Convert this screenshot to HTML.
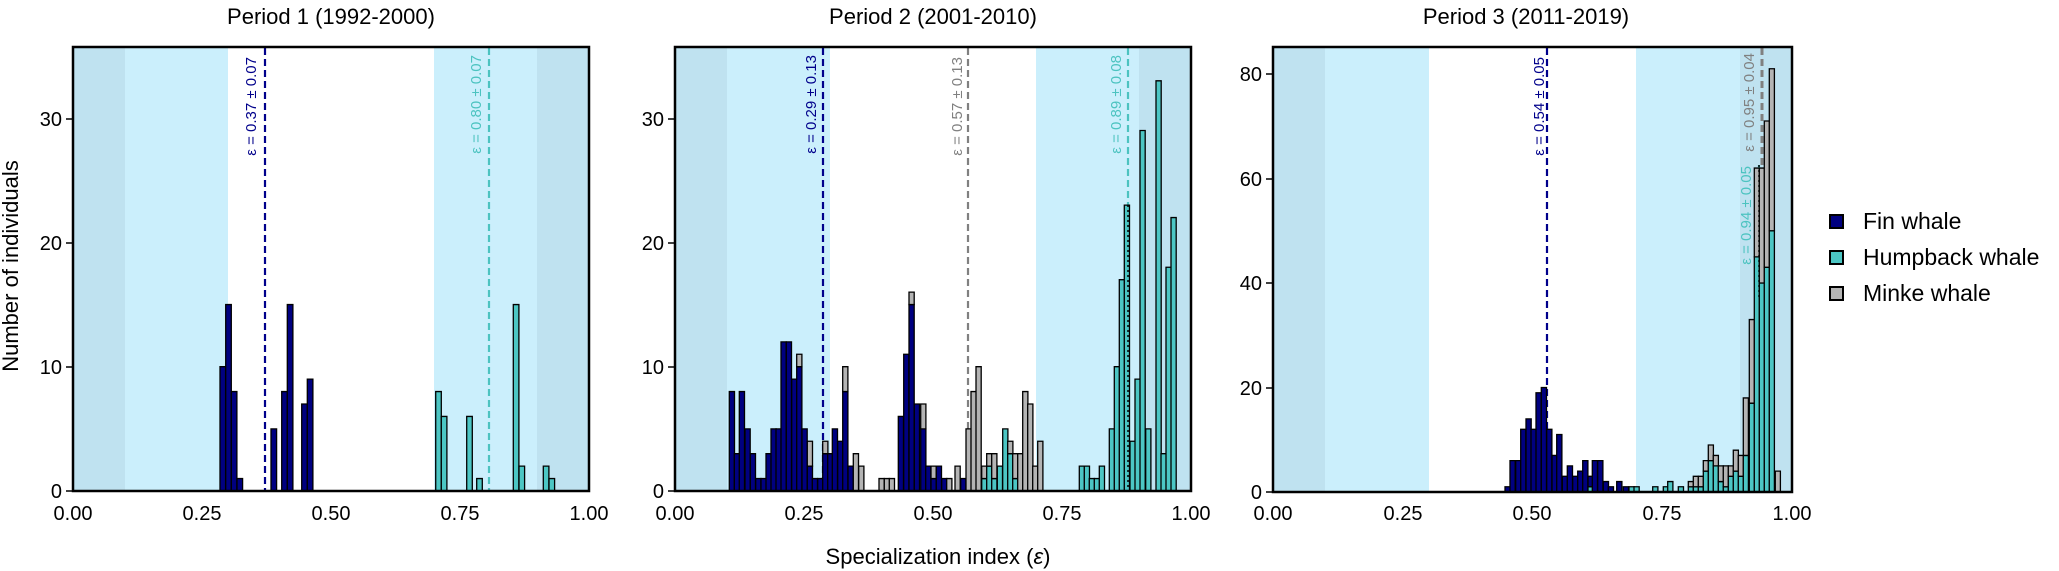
<!DOCTYPE html>
<html><head><meta charset="utf-8"><style>
html,body{margin:0;padding:0;background:#fff;}
svg{display:block;font-family:"Liberation Sans",sans-serif;}
.nv{fill:#000080;stroke:#000;stroke-width:1.3;}
.tl{fill:#4cc6c4;stroke:#000;stroke-width:1.3;}
.gy{fill:#b4b4b4;stroke:#000;stroke-width:1.3;}
rect.nv,rect.tl,rect.gy{vector-effect:non-scaling-stroke;}
.tk{font-size:20px;fill:#000;}
</style></head><body>
<svg width="2059" height="571" viewBox="0 0 2059 571" xmlns="http://www.w3.org/2000/svg">
<!-- Panel backgrounds -->
<g>
<rect x="73" y="47" width="516" height="444" fill="#fff"/>
<rect x="73" y="47" width="52" height="444" fill="#bfe2f0"/>
<rect x="125" y="47" width="103" height="444" fill="#cbeffc"/>
<rect x="434" y="47" width="103" height="444" fill="#cbeffc"/>
<rect x="537" y="47" width="52" height="444" fill="#bfe2f0"/>

<rect x="675" y="47" width="516" height="444" fill="#fff"/>
<rect x="675" y="47" width="52" height="444" fill="#bfe2f0"/>
<rect x="727" y="47" width="103" height="444" fill="#cbeffc"/>
<rect x="1036" y="47" width="103" height="444" fill="#cbeffc"/>
<rect x="1139" y="47" width="52" height="444" fill="#bfe2f0"/>

<rect x="1273" y="47" width="519" height="445" fill="#fff"/>
<rect x="1273" y="47" width="52" height="445" fill="#bfe2f0"/>
<rect x="1325" y="47" width="104" height="445" fill="#cbeffc"/>
<rect x="1636" y="47" width="104" height="445" fill="#cbeffc"/>
<rect x="1740" y="47" width="52" height="445" fill="#bfe2f0"/>
</g>

<!-- mean lines -->
<g fill="none" stroke-width="2.2" stroke-dasharray="7,4">
<line x1="265" y1="48" x2="265" y2="491" stroke="#00008b"/>
<line x1="489" y1="48" x2="489" y2="491" stroke="#4cc3c0"/>
<line x1="823" y1="48" x2="823" y2="491" stroke="#00008b"/>
<line x1="968" y1="48" x2="968" y2="491" stroke="#808080"/>
<line x1="1128" y1="48" x2="1128" y2="491" stroke="#4cc3c0"/>
<line x1="1547" y1="48" x2="1547" y2="492" stroke="#00008b"/>
<line x1="1762" y1="48" x2="1762" y2="492" stroke="#808080" stroke-width="3"/>
<line x1="1759" y1="165" x2="1759" y2="492" stroke="#4cc3c0"/>
</g>

<!-- Panel 1 bars -->
<g transform="translate(0,491) scale(1,-12.43)">
<rect class="nv" x="220" y="0" width="5.6" height="10"/>
<rect class="nv" x="225.7" y="0" width="5.6" height="15"/>
<rect class="nv" x="231.3" y="0" width="5.6" height="8"/>
<rect class="nv" x="237" y="0" width="5.6" height="1"/>
<rect class="nv" x="271" y="0" width="5.6" height="5"/>
<rect class="nv" x="281.7" y="0" width="5.6" height="8"/>
<rect class="nv" x="287.3" y="0" width="5.6" height="15"/>
<rect class="nv" x="301.7" y="0" width="5.6" height="7"/>
<rect class="nv" x="307.3" y="0" width="5.6" height="9"/>
<rect class="tl" x="435.7" y="0" width="5.6" height="8"/>
<rect class="tl" x="441.3" y="0" width="5.6" height="6"/>
<rect class="tl" x="466.7" y="0" width="5.6" height="6"/>
<rect class="tl" x="476.7" y="0" width="5.6" height="1"/>
<rect class="tl" x="513.3" y="0" width="5.6" height="15"/>
<rect class="tl" x="519" y="0" width="5.6" height="2"/>
<rect class="tl" x="543.3" y="0" width="5.6" height="2"/>
<rect class="tl" x="549" y="0" width="5.6" height="1"/>
</g>

<!-- Panel 2 bars -->
<g transform="translate(0,491) scale(1,-12.43)">
<rect class="nv" x="729.3" y="0" width="5.2" height="8"/>
<rect class="nv" x="734.3" y="0" width="5.2" height="3"/>
<rect class="nv" x="739.3" y="0" width="5.2" height="8"/>
<rect class="nv" x="745" y="0" width="5.2" height="5"/>
<rect class="nv" x="750.3" y="0" width="5.2" height="3"/>
<rect class="nv" x="755.7" y="0" width="5.2" height="1"/>
<rect class="nv" x="761" y="0" width="5.2" height="1"/>
<rect class="nv" x="766" y="0" width="5.2" height="3"/>
<rect class="nv" x="771" y="0" width="5.2" height="5"/>
<rect class="nv" x="776" y="0" width="5.2" height="5"/>
<rect class="nv" x="781" y="0" width="5.2" height="12"/>
<rect class="nv" x="786.3" y="0" width="5.2" height="12"/>
<rect class="nv" x="791.7" y="0" width="5.2" height="9"/>
<rect class="nv" x="796.7" y="0" width="5.2" height="10"/><rect class="gy" x="796.7" y="10" width="5.2" height="1"/>
<rect class="nv" x="802" y="0" width="5.2" height="5"/>
<rect class="nv" x="807.3" y="0" width="5.2" height="2"/><rect class="gy" x="807.3" y="2" width="5.2" height="2"/>
<rect class="nv" x="812.3" y="0" width="5.2" height="1"/>
<rect class="nv" x="817.7" y="0" width="5.2" height="1"/>
<rect class="nv" x="822.7" y="0" width="5.2" height="3"/><rect class="gy" x="822.7" y="3" width="5.2" height="1"/>
<rect class="nv" x="827.7" y="0" width="5.2" height="3"/>
<rect class="nv" x="832.3" y="0" width="5.2" height="5"/>
<rect class="nv" x="837.7" y="0" width="5.2" height="4"/>
<rect class="nv" x="842.7" y="0" width="5.2" height="8"/><rect class="gy" x="842.7" y="8" width="5.2" height="2"/>
<rect class="nv" x="848" y="0" width="5.2" height="2"/>
<rect class="gy" x="853.3" y="0" width="5.2" height="3"/>
<rect class="gy" x="858.7" y="0" width="5.2" height="2"/>
<rect class="gy" x="879" y="0" width="5.2" height="1"/>
<rect class="gy" x="884.3" y="0" width="5.2" height="1"/>
<rect class="gy" x="889.3" y="0" width="5.2" height="1"/>
<rect class="nv" x="898.3" y="0" width="5.2" height="6"/>
<rect class="nv" x="903.7" y="0" width="5.2" height="11"/>
<rect class="nv" x="909" y="0" width="5.2" height="15"/><rect class="gy" x="909" y="15" width="5.2" height="1"/>
<rect class="nv" x="914.3" y="0" width="5.2" height="7"/>
<rect class="nv" x="920.7" y="0" width="5.2" height="5"/><rect class="gy" x="920.7" y="5" width="5.2" height="2"/>
<rect class="nv" x="925.7" y="0" width="5.2" height="2"/>
<rect class="nv" x="931" y="0" width="5.2" height="1"/><rect class="gy" x="931" y="1" width="5.2" height="1"/>
<rect class="nv" x="936.3" y="0" width="5.2" height="2"/>
<rect class="nv" x="941.7" y="0" width="5.2" height="1"/>
<rect class="gy" x="946.7" y="0" width="5.2" height="1"/>
<rect class="gy" x="955" y="0" width="5.2" height="2"/>
<rect class="nv" x="960.7" y="0" width="5.2" height="1"/>
<rect class="gy" x="966" y="0" width="5.2" height="5"/>
<rect class="gy" x="971" y="0" width="5.2" height="8"/>
<rect class="gy" x="976" y="0" width="5.2" height="10"/>
<rect class="tl" x="981.7" y="0" width="5.2" height="1"/><rect class="gy" x="981.7" y="1" width="5.2" height="1"/>
<rect class="tl" x="986.7" y="0" width="5.2" height="2"/><rect class="gy" x="986.7" y="2" width="5.2" height="1"/>
<rect class="tl" x="991.7" y="0" width="5.2" height="1"/><rect class="gy" x="991.7" y="1" width="5.2" height="2"/>
<rect class="tl" x="997.3" y="0" width="5.2" height="2"/>
<rect class="tl" x="1002.7" y="0" width="5.2" height="5"/>
<rect class="tl" x="1007.7" y="0" width="5.2" height="3"/><rect class="gy" x="1007.7" y="3" width="5.2" height="1"/>
<rect class="tl" x="1012.7" y="0" width="5.2" height="1"/><rect class="gy" x="1012.7" y="1" width="5.2" height="2"/>
<rect class="gy" x="1017.7" y="0" width="5.2" height="3"/>
<rect class="gy" x="1022.7" y="0" width="5.2" height="8"/>
<rect class="gy" x="1027.7" y="0" width="5.2" height="7"/>
<rect class="gy" x="1032.7" y="0" width="5.2" height="2"/>
<rect class="gy" x="1037.7" y="0" width="5.2" height="4"/>
<rect class="tl" x="1079.3" y="0" width="5.2" height="2"/>
<rect class="tl" x="1084.3" y="0" width="5.2" height="2"/>
<rect class="tl" x="1089.3" y="0" width="5.2" height="1"/>
<rect class="tl" x="1094.3" y="0" width="5.2" height="1"/>
<rect class="tl" x="1099.3" y="0" width="5.2" height="2"/>
<rect class="tl" x="1109.3" y="0" width="5.2" height="5"/>
<rect class="tl" x="1114.3" y="0" width="5.2" height="10"/>
<rect class="tl" x="1119.3" y="0" width="5.2" height="17"/>
<rect class="tl" x="1124.3" y="0" width="5.2" height="23"/>
<rect class="tl" x="1130" y="0" width="5.2" height="4"/>
<rect class="tl" x="1135" y="0" width="5.2" height="9"/>
<rect class="tl" x="1140" y="0" width="5.2" height="29"/>
<rect class="tl" x="1145.7" y="0" width="5.2" height="5"/>
<rect class="tl" x="1156" y="0" width="5.2" height="33"/>
<rect class="tl" x="1161" y="0" width="5.2" height="3"/>
<rect class="tl" x="1166" y="0" width="5.2" height="18"/>
<rect class="tl" x="1171" y="0" width="5.2" height="22"/>
</g>

<!-- Panel 3 bars -->
<g transform="translate(0,492) scale(1,-5.225)">
<rect class="nv" x="1505" y="0" width="5.2" height="1"/>
<rect class="nv" x="1510" y="0" width="5.2" height="6"/>
<rect class="nv" x="1515.7" y="0" width="5.2" height="6"/>
<rect class="nv" x="1520.7" y="0" width="5.2" height="12"/>
<rect class="nv" x="1526" y="0" width="5.2" height="14"/>
<rect class="nv" x="1531" y="0" width="5.2" height="12"/>
<rect class="nv" x="1536" y="0" width="5.2" height="19"/>
<rect class="nv" x="1541.3" y="0" width="5.2" height="20"/>
<rect class="nv" x="1546.7" y="0" width="5.2" height="12"/>
<rect class="nv" x="1552" y="0" width="5.2" height="7"/>
<rect class="nv" x="1556.7" y="0" width="5.2" height="11"/>
<rect class="nv" x="1562.3" y="0" width="5.2" height="3"/>
<rect class="nv" x="1567.3" y="0" width="5.2" height="5"/>
<rect class="nv" x="1572.7" y="0" width="5.2" height="3"/>
<rect class="nv" x="1577.7" y="0" width="5.2" height="4"/>
<rect class="nv" x="1582.7" y="0" width="5.2" height="6"/>
<rect class="tl" x="1588" y="0" width="5.2" height="1"/><rect class="nv" x="1588" y="1" width="5.2" height="2"/>
<rect class="nv" x="1592.3" y="0" width="5.2" height="6"/>
<rect class="nv" x="1597.7" y="0" width="5.2" height="6"/>
<rect class="nv" x="1603.3" y="0" width="5.2" height="2"/>
<rect class="nv" x="1608.3" y="0" width="5.2" height="1"/>
<rect class="nv" x="1616.7" y="0" width="5.2" height="2"/>
<rect class="nv" x="1623.3" y="0" width="5.2" height="1"/>
<rect class="tl" x="1629" y="0" width="5.2" height="1"/>
<rect class="tl" x="1634" y="0" width="5.2" height="1"/>
<rect class="tl" x="1652.7" y="0" width="5.2" height="1"/>
<rect class="tl" x="1663.3" y="0" width="5.2" height="1"/>
<rect class="tl" x="1667.7" y="0" width="5.2" height="2"/>
<rect class="tl" x="1678.3" y="0" width="5.2" height="1"/>
<rect class="tl" x="1688.3" y="0" width="5.1" height="1"/><rect class="gy" x="1688.3" y="1" width="5.1" height="1"/>
<rect class="tl" x="1693.3" y="0" width="5.1" height="1"/><rect class="gy" x="1693.3" y="1" width="5.1" height="2"/>
<rect class="tl" x="1698.3" y="0" width="5.1" height="1"/><rect class="gy" x="1698.3" y="1" width="5.1" height="2"/>
<rect class="tl" x="1703.3" y="0" width="5.1" height="4"/><rect class="gy" x="1703.3" y="4" width="5.1" height="2"/>
<rect class="tl" x="1708.3" y="0" width="5.1" height="6"/><rect class="gy" x="1708.3" y="6" width="5.1" height="3"/>
<rect class="tl" x="1713.3" y="0" width="5.1" height="5"/><rect class="gy" x="1713.3" y="5" width="5.1" height="2"/>
<rect class="tl" x="1718.3" y="0" width="5.1" height="2"/><rect class="gy" x="1718.3" y="2" width="5.1" height="3"/>
<rect class="tl" x="1723.3" y="0" width="5.1" height="1"/><rect class="gy" x="1723.3" y="1" width="5.1" height="4"/>
<rect class="tl" x="1728.3" y="0" width="5.1" height="3"/><rect class="gy" x="1728.3" y="3" width="5.1" height="2"/>
<rect class="tl" x="1733.3" y="0" width="5.1" height="4"/><rect class="gy" x="1733.3" y="4" width="5.1" height="4"/>
<rect class="tl" x="1738.3" y="0" width="5.1" height="3"/><rect class="gy" x="1738.3" y="3" width="5.1" height="4"/>
<rect class="tl" x="1743.3" y="0" width="5.1" height="7"/><rect class="gy" x="1743.3" y="7" width="5.1" height="11"/>
<rect class="tl" x="1749.3" y="0" width="5.1" height="17"/><rect class="gy" x="1749.3" y="17" width="5.1" height="16"/>
<rect class="tl" x="1754.3" y="0" width="5.1" height="45"/><rect class="gy" x="1754.3" y="45" width="5.1" height="17"/>
<rect class="tl" x="1759.3" y="0" width="5.1" height="40"/><rect class="gy" x="1759.3" y="40" width="5.1" height="22"/>
<rect class="tl" x="1764.3" y="0" width="5.1" height="43"/><rect class="gy" x="1764.3" y="43" width="5.1" height="28"/>
<rect class="tl" x="1769.3" y="0" width="5.1" height="50"/><rect class="gy" x="1769.3" y="50" width="5.1" height="31"/>
<rect class="gy" x="1775.3" y="0" width="5.1" height="4"/>
</g>

<!-- dotted black lines -->
<line x1="1128" y1="205" x2="1128" y2="491" stroke="#000" stroke-width="1.5" stroke-dasharray="2,3"/>
<line x1="1759" y1="165" x2="1759" y2="300" stroke="#000" stroke-width="1.5" stroke-dasharray="2,3"/>

<!-- mean labels -->
<g font-size="15" text-anchor="end">
<text transform="translate(256,57) rotate(-90)" fill="#00008b">ε = 0.37 ± 0.07</text>
<text transform="translate(481,55) rotate(-90)" fill="#4cc3c0">ε = 0.80 ± 0.07</text>
<text transform="translate(816,55) rotate(-90)" fill="#00008b">ε = 0.29 ± 0.13</text>
<text transform="translate(962,57) rotate(-90)" fill="#808080">ε = 0.57 ± 0.13</text>
<text transform="translate(1121,55) rotate(-90)" fill="#4cc3c0">ε = 0.89 ± 0.08</text>
<text transform="translate(1544,57) rotate(-90)" fill="#00008b">ε = 0.54 ± 0.05</text>
<text transform="translate(1754,53) rotate(-90)" fill="#808080">ε = 0.95 ± 0.04</text>
<text transform="translate(1751,166) rotate(-90)" fill="#4cc3c0">ε = 0.94 ± 0.05</text>
</g>

<!-- frames -->
<g fill="none" stroke="#000" stroke-width="2.5">
<rect x="73" y="47" width="516" height="444"/>
<rect x="675" y="47" width="516" height="444"/>
<rect x="1273" y="47" width="519" height="445"/>
</g>

<!-- y ticks -->
<g stroke="#000" stroke-width="1.5">
<line x1="66" y1="491" x2="73" y2="491"/><line x1="66" y1="367" x2="73" y2="367"/><line x1="66" y1="243" x2="73" y2="243"/><line x1="66" y1="119" x2="73" y2="119"/>
<line x1="668" y1="491" x2="675" y2="491"/><line x1="668" y1="367" x2="675" y2="367"/><line x1="668" y1="243" x2="675" y2="243"/><line x1="668" y1="119" x2="675" y2="119"/>
<line x1="1266" y1="492" x2="1273" y2="492"/><line x1="1266" y1="388" x2="1273" y2="388"/><line x1="1266" y1="283" x2="1273" y2="283"/><line x1="1266" y1="179" x2="1273" y2="179"/><line x1="1266" y1="74" x2="1273" y2="74"/>
</g>
<g class="tk" text-anchor="end">
<text x="62" y="498">0</text><text x="62" y="374">10</text><text x="62" y="250">20</text><text x="62" y="126">30</text>
<text x="664" y="498">0</text><text x="664" y="374">10</text><text x="664" y="250">20</text><text x="664" y="126">30</text>
<text x="1262" y="499">0</text><text x="1262" y="395">20</text><text x="1262" y="290">40</text><text x="1262" y="186">60</text><text x="1262" y="81">80</text>
</g>
<!-- x tick labels -->
<g class="tk" text-anchor="middle">
<text x="73" y="520">0.00</text><text x="202" y="520">0.25</text><text x="331" y="520">0.50</text><text x="460" y="520">0.75</text><text x="589" y="520">1.00</text>
<text x="675" y="520">0.00</text><text x="804" y="520">0.25</text><text x="933" y="520">0.50</text><text x="1062" y="520">0.75</text><text x="1191" y="520">1.00</text>
<text x="1273" y="520">0.00</text><text x="1403" y="520">0.25</text><text x="1532" y="520">0.50</text><text x="1662" y="520">0.75</text><text x="1792" y="520">1.00</text>
</g>

<!-- titles -->
<g font-size="22" text-anchor="middle" fill="#000">
<text x="331" y="24">Period 1 (1992-2000)</text>
<text x="933" y="24">Period 2 (2001-2010)</text>
<text x="1526" y="24">Period 3 (2011-2019)</text>
<text x="938" y="564">Specialization index (<tspan font-style="italic">ε</tspan>)</text>
<text transform="translate(18,266) rotate(-90)">Number of individuals</text>
</g>

<!-- legend -->
<g stroke="#000" stroke-width="2">
<rect x="1830" y="215" width="13" height="13" fill="#000080"/>
<rect x="1830" y="251" width="13" height="13" fill="#4cc6c4"/>
<rect x="1830" y="287" width="13" height="13" fill="#b4b4b4"/>
</g>
<g font-size="23" fill="#000">
<text x="1863" y="229">Fin whale</text>
<text x="1863" y="265">Humpback whale</text>
<text x="1863" y="301">Minke whale</text>
</g>
</svg>
</body></html>
